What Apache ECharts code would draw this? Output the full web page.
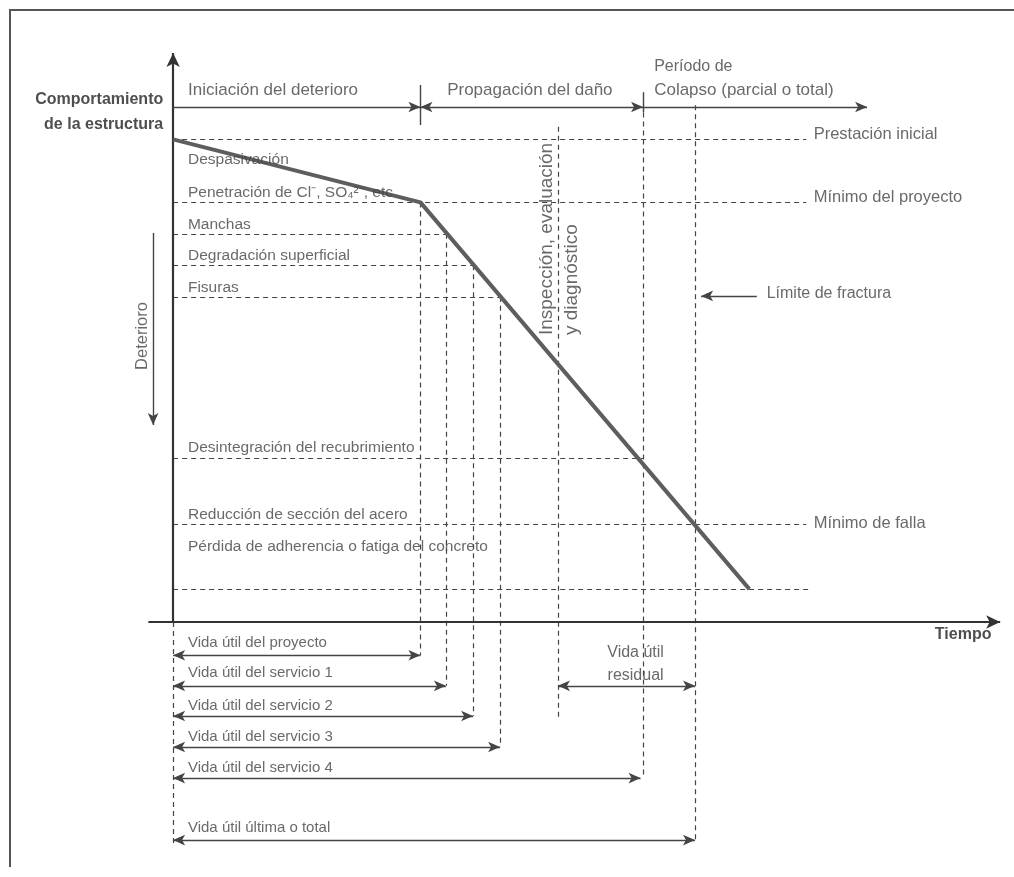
<!DOCTYPE html>
<html>
<head>
<meta charset="utf-8">
<script src="https://cdn.jsdelivr.net/npm/echarts@6/dist/echarts.min.js"></script>
<style>
html,body{margin:0;padding:0;background:#fff;overflow:hidden;}
#c{width:1014px;height:877px;position:absolute;left:0;top:0;}
#frame{position:absolute;left:9px;top:9px;width:1100px;height:856px;border-left:2px solid #555;border-top:2px solid #555;pointer-events:none;}
</style>
</head>
<body>
<div id="c"></div>
<div id="frame"></div>
<script>
// ---------------- DATA ----------------
// Degradation curve (time units, performance units)
const curveTime = [0, 10, 23.3];
const curvePerf = [100, 86, 0];

// Horizontal dashed levels
const levelPerf = [100, 86, 79, 72, 65, 29, 14.5, 0];
const levelEnd  = [25.6, 25.6, 11.03, 12.13, 13.22, 19.0, 25.6, 25.8];

// Stage labels along the performance axis
const stageLabels = [
  'Despasivación',
  'Penetración de Cl⁻, SO₄²⁻, etc',
  'Manchas',
  'Degradación superficial',
  'Fisuras',
  'Desintegración del recubrimiento',
  'Reducción de sección del acero',
  'Pérdida de adherencia o fatiga del concreto'
];
const stagePerf = [95.4, 88.1, 81, 74.1, 67, 31.4, 16.5, 9.4];

// Right-hand limit labels
const limitLabels = ['Prestación inicial', 'Mínimo del proyecto', 'Mínimo de falla'];
const limitPerf = [101.2, 87, 14.7];

// Vertical dashed milestone lines
const milestoneTime   = [10, 11.03, 12.13, 13.22, 15.56, 19.0, 21.1, 0];
const milestoneTop    = [86, 79, 72, 65, 102.8, 106, 107.6, -7.3];
const milestoneBottom = [-14.7, -21.5, -28.2, -35.1, -28.7, -42.0, -55.8, -57.3];

// Service-life arrows at the bottom
const lifeLabels = [
  'Vida útil del proyecto',
  'Vida útil del servicio 1',
  'Vida útil del servicio 2',
  'Vida útil del servicio 3',
  'Vida útil del servicio 4',
  'Vida útil última o total'
];
const lifeEnd       = [10, 11.03, 12.13, 13.22, 18.9, 21.1];
const lifeArrowPerf = [-14.7, -21.5, -28.2, -35.1, -42.0, -55.8];
const lifeTextPerf  = [-12, -18.7, -26, -32.9, -39.8, -53.1];

// Residual life
const residualStart = 15.56, residualEnd = 21.1, residualPerf = -21.5;
const residualLabels = ['Vida útil', 'residual'];
const residualLabelTime = 18.7;
const residualLabelPerf = [-14.2, -19.3];

// Phases along the top
const phaseBounds = [0, 10, 19, 28.06];
const phasePerf = 107.2;
const phaseLabels = ['Iniciación del deterioro', 'Propagación del daño', 'Período de', 'Colapso (parcial o total)'];
const phaseLabelTime = [0.6, 11.08, 19.45, 19.45];
const phaseLabelPerf = [111, 111, 116.3, 111];
const phaseLabelSize = [17, 17, 16, 17];
const phaseTickTop = [112.1, 110.5];
const phaseTickBottom = [103.2, 106];

// Axes extents
const axisOrigin = [0, -7.3];
const yAxisTop = 119.2;
const xAxisStart = -1, xAxisEnd = 33.44;

// Other annotations
const deteriorTime = -0.81, deteriorFrom = 79.2, deteriorTo = 36.5;
const fractureFrom = 23.6, fractureTo = 21.35, fracturePerf = 65.2;
const inspectionLabels = ['Inspección, evaluación', 'y diagnóstico'];
const inspectionTime = [15.12, 16.13];
const inspectionPerf = 56.5;

// ---------------- CHART ----------------
const TXT = '#444';
const FONT = 'Liberation Sans, Arial, sans-serif';

function txt(name, x, y, o) {
  o = o || {};
  return {
    name: name,
    value: [x, y],
    label: Object.assign({
      show: true,
      formatter: '{b}',
      position: o.pos || 'right',
      distance: 0,
      color: o.color || TXT,
      fontSize: o.size || 16,
      fontWeight: o.weight || 'normal',
      fontFamily: FONT
    }, o.extra || {})
  };
}

const texts = [];
stageLabels.forEach((s, i) => texts.push(txt(s, 0.6, stagePerf[i], {size: 15.5})));
limitLabels.forEach((s, i) => texts.push(txt(s, 25.9, limitPerf[i], {size: 16.5})));
lifeLabels.forEach((s, i) => texts.push(txt(s, 0.6, lifeTextPerf[i], {size: 15})));
phaseLabels.forEach((s, i) => texts.push(txt(s, phaseLabelTime[i], phaseLabelPerf[i], {size: phaseLabelSize[i]})));
residualLabels.forEach((s, i) => texts.push(txt(s, residualLabelTime, residualLabelPerf[i], {pos: 'inside', extra: {align: 'center', verticalAlign: 'middle'}})));
texts.push(txt('Comportamiento', -0.4, 108.8, {pos: 'left', weight: 'bold', color: '#222'}));
texts.push(txt('de la estructura', -0.4, 103.2, {pos: 'left', weight: 'bold', color: '#222'}));
texts.push(txt('Tiempo', 30.8, -10.2, {weight: 'bold', color: '#222'}));
texts.push(txt('Límite de fractura', 24.0, 65.8));
texts.push(txt('Deterioro', -1.26, 56.3, {pos: 'inside', size: 16.5, extra: {rotate: 90, align: 'center', verticalAlign: 'middle'}}));
inspectionLabels.forEach((s, i) => texts.push(txt(s, inspectionTime[i], inspectionPerf, {pos: 'inside', size: 19, extra: {rotate: 90, align: 'left', verticalAlign: 'middle'}})));

function seg(x1, y1, x2, y2, s1, s2) {
  return [{coord: [x1, y1], symbol: s1 || 'none'}, {coord: [x2, y2], symbol: s2 || 'none'}];
}

const dashed = [];
levelPerf.forEach((p, i) => dashed.push(seg(0, p, levelEnd[i], p)));
milestoneTime.forEach((t, i) => dashed.push(seg(t, milestoneTop[i], t, milestoneBottom[i])));

const axesSeg = [
  seg(axisOrigin[0], axisOrigin[1], axisOrigin[0], yAxisTop, 'none', 'arrow'),
  seg(xAxisStart, axisOrigin[1], xAxisEnd, axisOrigin[1], 'none', 'arrow')
];

const thin = [];
thin.push(seg(phaseBounds[0], phasePerf, phaseBounds[1], phasePerf, 'none', 'arrow'));
thin.push(seg(phaseBounds[1], phasePerf, phaseBounds[2], phasePerf, 'arrow', 'arrow'));
thin.push(seg(phaseBounds[2], phasePerf, phaseBounds[3], phasePerf, 'none', 'arrow'));
thin.push(seg(phaseBounds[1], phaseTickTop[0], phaseBounds[1], phaseTickBottom[0]));
thin.push(seg(phaseBounds[2], phaseTickTop[1], phaseBounds[2], phaseTickBottom[1]));
lifeEnd.forEach((t, i) => thin.push(seg(0, lifeArrowPerf[i], t, lifeArrowPerf[i], 'arrow', 'arrow')));
thin.push(seg(residualStart, residualPerf, residualEnd, residualPerf, 'arrow', 'arrow'));
thin.push(seg(fractureFrom, fracturePerf, fractureTo, fracturePerf, 'none', 'arrow'));
thin.push(seg(deteriorTime, deteriorFrom, deteriorTime, deteriorTo, 'none', 'arrow'));

function mlSeries(data, lineStyle, symbolSize) {
  return {
    type: 'line', data: [], silent: true, animation: false,
    markLine: {
      silent: true, animation: false,
      symbolSize: symbolSize || [8, 11],
      label: {show: false},
      emphasis: {disabled: true},
      lineStyle: lineStyle,
      data: data
    }
  };
}

const chart = echarts.init(document.getElementById('c'), null, {renderer: 'canvas'});
chart.setOption({
  animation: false,
  backgroundColor: 'transparent',
  grid: {left: 0, right: 0, top: 0, bottom: 0},
  xAxis: {type: 'value', min: -7, max: 34, show: false},
  yAxis: {type: 'value', min: -64, max: 131, show: false},
  series: [
    mlSeries(dashed, {type: [5, 4], width: 1.2, color: '#444'}),
    mlSeries(axesSeg, {type: 'solid', width: 2.2, color: '#333'}, [10, 14]),
    mlSeries(thin, {type: 'solid', width: 1.4, color: '#444'}, [8, 12]),
    {
      type: 'line', silent: true, animation: false, z: 5,
      symbol: 'none',
      lineStyle: {width: 4, color: '#5e5e5e'},
      data: curveTime.map((t, i) => [t, curvePerf[i]])
    },
    {
      type: 'scatter', silent: true, animation: false, z: 6,
      symbolSize: 0, clip: false,
      data: texts
    }
  ]
});
</script>
</body>
</html>
